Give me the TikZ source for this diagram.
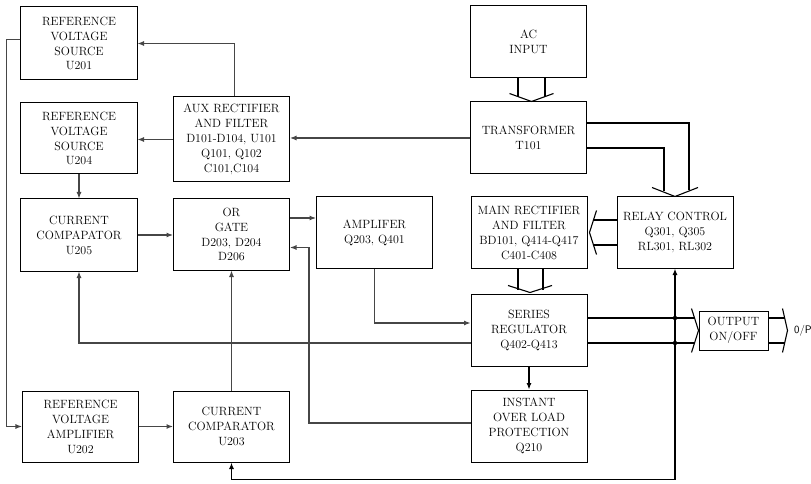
\documentclass[tikz,border=0pt]{standalone}
\usetikzlibrary{arrows.meta, positioning, calc}

\definecolor{wire}{RGB}{70,70,70}
\tikzset{
    block/.style={draw, line width=1bp, minimum width=116bp, minimum height=72bp,
        align=center, inner sep=1bp, font=\fontsize{12}{15}\selectfont},
    link/.style={draw=wire, line width=1.1bp, -{Latex[length=6.5bp,width=5bp]}},
    bus/.style={draw=black, line width=1.1bp},
    power/.style={draw=black, line width=1.5bp},
}
% open chevron at a named point, arms given relative to it
\newcommand{\chev}[3]{\draw[bus] ($(#1)+(#2)$) -- (#1) -- ($(#1)+(#3)$);}

\begin{document}
\begin{tikzpicture}[x=1bp, y=-1bp]
    \useasboundingbox (0,0) rectangle (811,484);

    % Left column
    \node[block, minimum height=73bp] (u201) at (79,43.5) {REFERENCE\\VOLTAGE\\SOURCE\\U201};
    \node[block, minimum height=71bp] (u204) at (79,138.5) {REFERENCE\\VOLTAGE\\SOURCE\\U204};
    \node[block] (u205) at (79,235) {CURRENT\\COMPAPATOR\\U205};
    \node[block, minimum height=71bp] (u202) at (80.5,426.5) {REFERENCE\\VOLTAGE\\AMPLIFIER\\U202};

    % Middle columns
    \node[block, minimum height=85bp] (aux) at (231.5,139.5) {AUX RECTIFIER\\AND FILTER\\D101-D104, U101\\Q101, Q102\\C101,C104};
    \node[block, minimum height=71bp] (orgate) at (231.5,234.5) {OR\\GATE\\D203, D204\\D206};
    \node[block, minimum height=71bp] (u203) at (231.5,426.5) {CURRENT\\COMPARATOR\\U203};
    \node[block, minimum height=71bp] (amp) at (374.5,232.5) {AMPLIFER\\Q203, Q401};

    % Power side
    \node[block] (acin) at (528.5,42) {AC\\INPUT};
    \node[block] (trans) at (528.5,138) {TRANSFORMER\\T101};
    \node[block, minimum height=71bp] (mainrect) at (529,232.5) {MAIN RECTIFIER\\AND FILTER\\BD101, Q414-Q417\\C401-C408};
    \node[block, minimum height=71bp] (series) at (529,330.5) {SERIES\\REGULATOR\\Q402-Q413};
    \node[block] (instant) at (529,426) {INSTANT\\OVER LOAD\\PROTECTION\\Q210};
    \node[block, minimum height=71bp] (relay) at (675,232.5) {RELAY CONTROL\\Q301, Q305\\RL301, RL302};
    \node[block, minimum width=69bp, minimum height=39bp] (outsw) at (733.5,330.5) {OUTPUT\\ON/OFF};
    \node[font=\sffamily\fontsize{11}{13}\selectfont, anchor=west, inner sep=0] (outlbl) at (794,330.5) {0/P};

    % Control signal paths
    \draw[link] ($(aux.north)+(3,0)$) |- (u201.east);
    \draw[link] (aux.west) -- (aux.west -| u204.east);
    \draw[link] (trans.west) -- (trans.west -| aux.east);
    \draw[link] (u204) -- (u205);
    \draw[link] (u205.east) -- (u205.east -| orgate.west);
    \coordinate (orout) at ($(orgate.east)+(0,-16.5)$);
    \coordinate (orin) at ($(orgate.east)+(0,13)$);
    \draw[link] (orout) -- (orout -| amp.west);
    \draw[link] ($(instant.west)+(0,-3)$) -| ($(orin)+(19,0)$) -- (orin);
    \draw[link] (amp.south) |- ($(series.west)+(0,-7.5)$);
    \draw[link] ($(series.west)+(0,12.5)$) -| (u205.south);
    \draw[link] (u203) -- (orgate);
    \draw[link] ($(u201.west)+(0,-4)$) -- ++(-14,0) |- (u202.west);
    \draw[link] (u202) -- (u203);
    \draw[link, draw=black] (series) -- (instant);

    % Bus from AC input to transformer
    \coordinate (actip) at ($(trans.north)+(3,0)$);
    \draw[bus] ($(acin.south)+(-10.5,0)$) -- ++(0,19);
    \draw[bus] ($(acin.south)+(16.5,0)$) -- ++(0,19);
    \chev{actip}{-22,-8}{22,-8}

    % Bus from main rectifier to series regulator
    \coordinate (mrtip) at ($(series.north)+(1,-2)$);
    \draw[bus, line width=1.5bp] ($(mainrect.south)+(-11,0)$) -- ++(0,21);
    \draw[bus] ($(mainrect.south)+(14,0)$) -- ++(0,21);
    \chev{mrtip}{-22,-7}{22,-7}

    % Bus from transformer to relay control
    \draw[bus] ($(trans.east)+(0,-15)$) -| ($(relay.north)+(14,-6)$);
    \draw[bus] ($(trans.east)+(0,10)$) -| ($(relay.north)+(-11,-5)$);
    \chev{relay.north}{-23,-9}{23,-9}

    % Relay control to main rectifier
    \coordinate (rltip) at ($(mainrect.east)+(2,0)$);
    \draw[power] ($(relay.west)+(0,-12.5)$) -- ++(-24,0);
    \draw[power] ($(relay.west)+(0,12.5)$) -- ++(-24,0);
    \chev{rltip}{7,-22}{7,22}

    % Regulated output through the on/off switch
    \coordinate (spos) at ($(series.east)+(0,-12.5)$);
    \coordinate (sneg) at ($(series.east)+(0,12.5)$);
    \draw[power] (spos) -- ($(spos -| outsw.west)+(-4,0)$);
    \draw[power] (sneg) -- ($(sneg -| outsw.west)+(-4,0)$);
    \fill (spos -| relay.south) circle (2.2bp);
    \fill (sneg -| relay.south) circle (2.2bp);
    \chev{outsw.west}{-7,-22}{-7,22}
    \coordinate (optip) at ($(outsw.east)+(19,0)$);
    \draw[power] ($(outsw.east)+(0,-12.5)$) -- ++(16,0);
    \draw[power] ($(outsw.east)+(0,12.5)$) -- ++(16,0);
    \chev{optip}{-5,-22}{-5,22}

    % Feedback loop from relay control to the comparator
    \draw[power, {Latex[length=6.5bp,width=5bp]}-{Latex[length=6.5bp,width=5bp]}]
        (relay.south) -- ++(0,211) -| (u203.south);
\end{tikzpicture}
\end{document}
